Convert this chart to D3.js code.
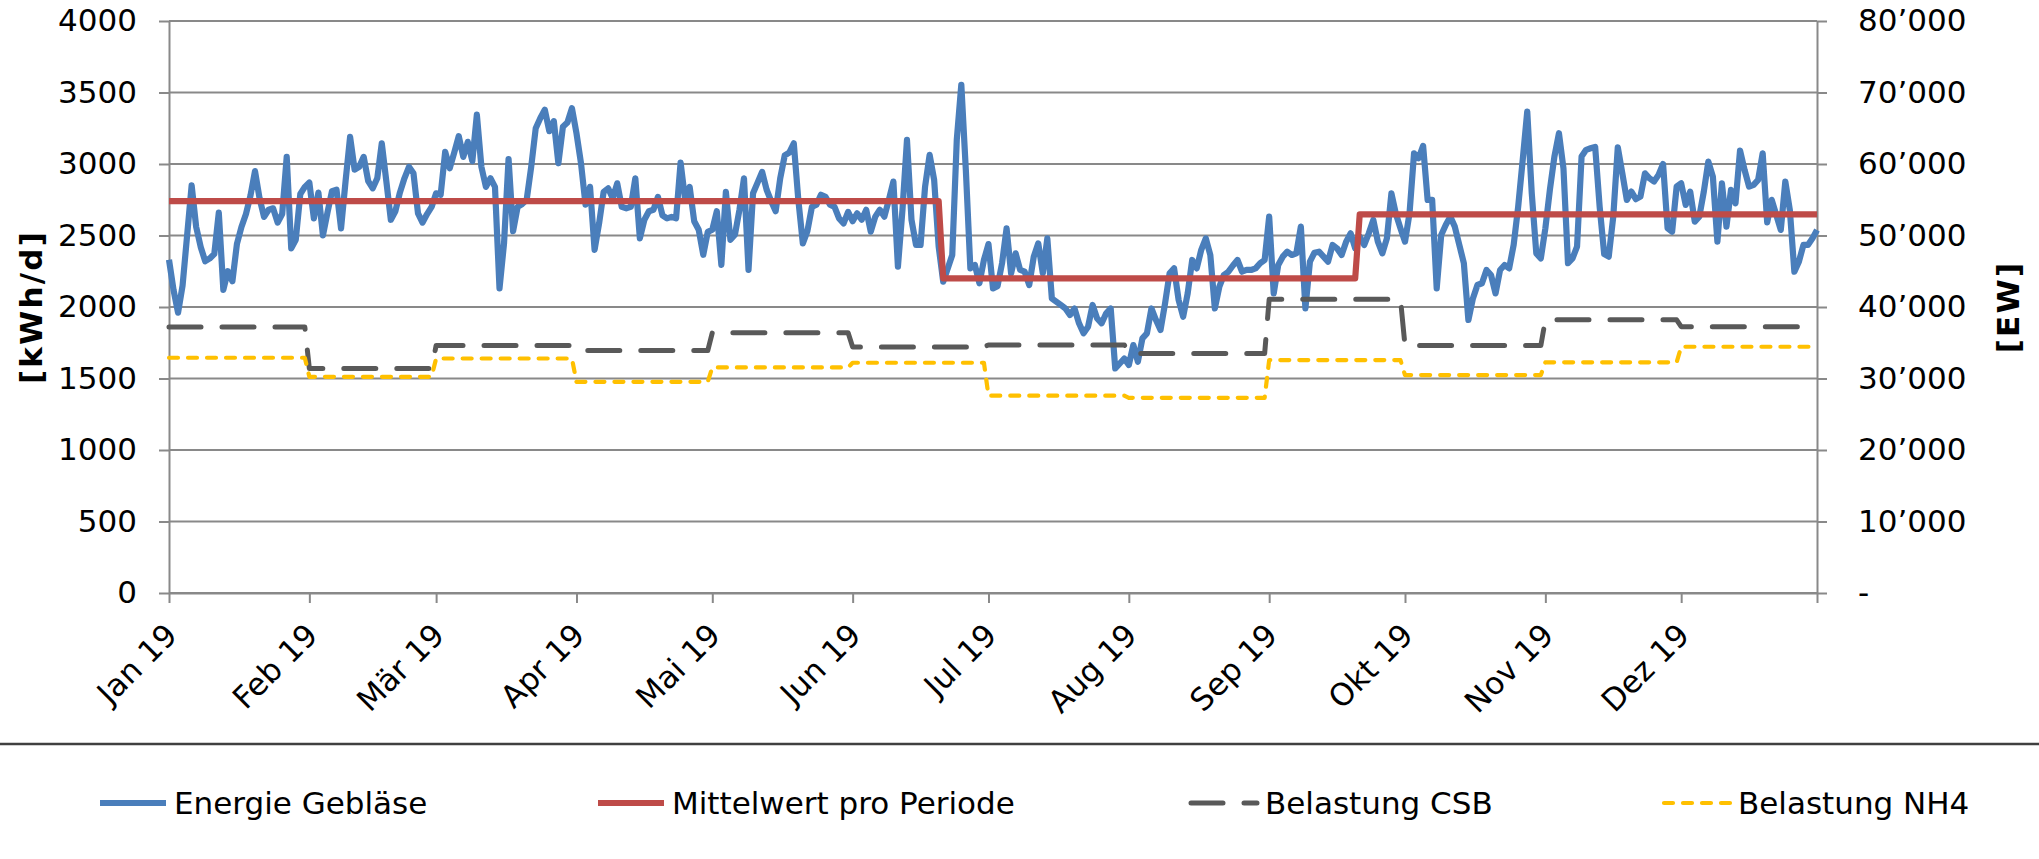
<!DOCTYPE html>
<html lang="de">
<head>
<meta charset="utf-8">
<title>Energie Gebläse 2019</title>
<script src="https://cdn.jsdelivr.net/npm/d3@7"></script>
<style>
    body { margin: 0; background: #fff; }
    #chart text { font-family: "DejaVu Sans", Verdana, sans-serif; fill: #000; }
</style>
</head>
<body>
<div id="chart"></div>
<script>
// Tageswerte Energie Gebläse [kWh/d], ein Array pro Monat (ab 1.1.2019)
const energieJan = [2330, 2120, 1960, 2150, 2500, 2850, 2560, 2420, 2320, 2340, 2370, 2660, 2120, 2250, 2180, 2440, 2560, 2650, 2780, 2950, 2760, 2630, 2680, 2690, 2590, 2650, 3050, 2410, 2470, 2790, 2840];
const energieFeb = [2870, 2620, 2800, 2500, 2660, 2810, 2820, 2550, 2880, 3190, 2960, 2980, 3050, 2880, 2830, 2900, 3145, 2880, 2610, 2670, 2800, 2900, 2980, 2935, 2655, 2590, 2650, 2700];
const energieMar = [2795, 2785, 3085, 2970, 3080, 3195, 3050, 3155, 3020, 3345, 2980, 2840, 2900, 2840, 2130, 2445, 3035, 2530, 2700, 2720, 2750, 2980, 3250, 3320, 3380, 3230, 3300, 3005, 3260, 3290, 3390];
const energieApr = [3215, 3005, 2715, 2840, 2400, 2585, 2805, 2830, 2760, 2865, 2700, 2690, 2700, 2900, 2480, 2610, 2670, 2680, 2770, 2640, 2620, 2630, 2620, 3010, 2750, 2840, 2600, 2540, 2365, 2525];
const energieMai = [2540, 2670, 2295, 2805, 2470, 2505, 2680, 2900, 2260, 2795, 2870, 2945, 2820, 2740, 2670, 2900, 3060, 3080, 3145, 2750, 2445, 2530, 2700, 2715, 2785, 2770, 2715, 2700, 2620, 2585, 2665];
const energieJun = [2600, 2655, 2610, 2680, 2527, 2632, 2680, 2632, 2750, 2877, 2282, 2679, 3169, 2609, 2434, 2434, 2842, 3064, 2889, 2422, 2177, 2270, 2364, 3169, 3554, 2959, 2270, 2294, 2166, 2329];
const energieJul = [2440, 2130, 2145, 2306, 2550, 2235, 2375, 2259, 2247, 2154, 2352, 2445, 2235, 2480, 2060, 2037, 2014, 1990, 1944, 1990, 1886, 1816, 1862, 2014, 1920, 1886, 1956, 1990, 1570, 1605, 1640];
const energieAug = [1594, 1734, 1617, 1781, 1816, 1990, 1909, 1839, 2025, 2235, 2270, 2049, 1932, 2095, 2329, 2270, 2400, 2480, 2364, 1990, 2142, 2224, 2247, 2290, 2329, 2247, 2259, 2259, 2270, 2306, 2329];
const energieSep = [2632, 2095, 2294, 2352, 2387, 2364, 2375, 2562, 1990, 2317, 2380, 2387, 2352, 2317, 2434, 2410, 2364, 2457, 2515, 2410, 2492, 2434, 2515, 2609, 2457, 2375, 2480, 2795, 2650, 2550];
const energieOkt = [2457, 2655, 3075, 3040, 3127, 2749, 2749, 2130, 2504, 2574, 2632, 2562, 2434, 2306, 1909, 2060, 2154, 2166, 2259, 2224, 2095, 2259, 2294, 2270, 2434, 2702, 3029, 3367, 2795, 2375, 2340];
const energieNov = [2550, 2819, 3052, 3215, 2970, 2306, 2340, 2422, 3052, 3099, 3110, 3120, 2700, 2370, 2352, 2632, 3117, 2935, 2749, 2807, 2754, 2772, 2935, 2900, 2877, 2924, 3000, 2550, 2527, 2842];
const energieDez = [2865, 2714, 2807, 2597, 2632, 2807, 3017, 2912, 2457, 2865, 2562, 2819, 2725, 3094, 2959, 2842, 2854, 2889, 3075, 2592, 2749, 2644, 2539, 2877, 2679, 2247, 2317, 2434, 2434, 2480, 2539];

// Mittelwert pro Periode [kWh/d]
const periodStart = ["2019-01-01", "2019-06-21", "2019-09-21"];
const periodEnd = ["2019-06-20", "2019-09-20", "2019-12-31"];
const periodMean = [2740, 2200, 2648];

// Monatliche Belastung [EW]
const csbMonthly = [37200, 31400, 34600, 33900, 36400, 34400, 34700, 33500, 41100, 34600, 38200, 37250];
const nh4Monthly = [32900, 30240, 32800, 29540, 31550, 32200, 27600, 27300, 32580, 30480, 32260, 34440];

const monthLabels = ["Jan 19", "Feb 19", "Mär 19", "Apr 19", "Mai 19", "Jun 19", "Jul 19", "Aug 19", "Sep 19", "Okt 19", "Nov 19", "Dez 19"];
const leftTicks = [0, 500, 1000, 1500, 2000, 2500, 3000, 3500, 4000];
const rightTicks = [0, 10000, 20000, 30000, 40000, 50000, 60000, 70000, 80000];
const legendLabels = ["Energie Gebläse", "Mittelwert pro Periode", "Belastung CSB", "Belastung NH4"];

class EnergyChart {
    constructor(selector) {
        this.width = 2039;
        this.height = 859;
        this.plot = { left: 169, right: 1817, top: 21, bottom: 593 };
        this.gridColor = "#898989";
        this.colors = ["#4A7EBB", "#BE4B48", "#595959", "#FFC000"];
        this.strokes = [6.2, 6.2, 5, 4.2];
        this.dashes = [null, null, "32,21", "9,10"];
        this.svg = d3.select(selector).append("svg")
            .attr("width", this.width)
            .attr("height", this.height);
        this.parse = d3.utcParse("%Y-%m-%d");
    }

    initialize() {
        const p = this.plot;
        this.x = d3.scaleUtc()
            .domain([this.parse("2019-01-01"), this.parse("2019-12-31")])
            .range([p.left, p.right]);
        this.yL = d3.scaleLinear().domain([0, 4000]).range([p.bottom, p.top]);
        this.yR = d3.scaleLinear().domain([0, 80000]).range([p.bottom, p.top]);

        // gridlines
        this.svg.append("g")
            .selectAll("line")
            .data(leftTicks)
            .join("line")
            .attr("x1", p.left).attr("x2", p.right)
            .attr("y1", d => this.yL(d)).attr("y2", d => this.yL(d))
            .attr("stroke", this.gridColor)
            .attr("stroke-width", 2);

        const locale = d3.formatLocale({ decimal: ".", thousands: "’", grouping: [3], currency: ["", ""] });
        const fmt = locale.format(",.0f");

        const left = this.svg.append("g")
            .attr("transform", `translate(${p.left},0)`)
            .call(d3.axisLeft(this.yL).tickValues(leftTicks).tickSize(10).tickSizeOuter(0).tickPadding(22).tickFormat(d3.format("d")));

        const right = this.svg.append("g")
            .attr("transform", `translate(${p.right},0)`)
            .call(d3.axisRight(this.yR).tickValues(rightTicks).tickSize(10).tickSizeOuter(0).tickPadding(31)
                .tickFormat(d => d === 0 ? "-" : fmt(d)));

        const months = d3.range(12).map(i => new Date(Date.UTC(2019, i, 1)));
        const bottom = this.svg.append("g")
            .attr("transform", `translate(0,${p.bottom})`)
            .call(d3.axisBottom(this.x).tickValues(months.concat([this.x.domain()[1]])).tickSize(10).tickSizeOuter(0).tickFormat(() => ""));

        [left, right, bottom].forEach(g => {
            g.select(".domain").attr("stroke", this.gridColor).attr("stroke-width", 2);
            g.selectAll(".tick line").attr("stroke", this.gridColor).attr("stroke-width", 2);
            g.selectAll(".tick text").style("font-size", "31px").attr("fill", "#000");
        });

        this.svg.append("g")
            .selectAll("text")
            .data(months)
            .join("text")
            .attr("transform", d => `translate(${this.x(d) + 10},${p.bottom + 44}) rotate(-45)`)
            .attr("text-anchor", "end")
            .style("font-size", "31px")
            .text((d, i) => monthLabels[i]);

        // axis titles
        this.svg.append("text")
            .attr("transform", `translate(42,${(p.top + p.bottom) / 2}) rotate(-90)`)
            .attr("text-anchor", "middle")
            .style("font-size", "31px")
            .style("font-weight", "bold")
            .style("letter-spacing", "2.2px")
            .text("[kWh/d]");

        this.svg.append("text")
            .attr("transform", `translate(2019,${(p.top + p.bottom) / 2}) rotate(-90)`)
            .attr("text-anchor", "middle")
            .style("font-size", "31px")
            .style("font-weight", "bold")
            .style("letter-spacing", "2.2px")
            .text("[EW]");

        // separator above legend
        this.svg.append("line")
            .attr("x1", 0).attr("x2", this.width)
            .attr("y1", 744).attr("y2", 744)
            .attr("stroke", "#404040")
            .attr("stroke-width", 2.5);
    }

    drawLines() {
        const energie = [].concat(energieJan, energieFeb, energieMar, energieApr, energieMai, energieJun,
            energieJul, energieAug, energieSep, energieOkt, energieNov, energieDez);
        const start = this.parse("2019-01-01");
        const daily = energie.map((v, i) => ({ date: d3.utcDay.offset(start, i), v }));

        const means = [];
        periodMean.forEach((v, i) => {
            means.push({ date: this.parse(periodStart[i]), v });
            means.push({ date: this.parse(periodEnd[i]), v });
        });

        const monthly = arr => arr.flatMap((v, i) => [
            { date: new Date(Date.UTC(2019, i, 1)), v },
            { date: new Date(Date.UTC(2019, i + 1, 0)), v }
        ]);

        const lineL = d3.line().x(d => this.x(d.date)).y(d => this.yL(d.v));
        const lineR = d3.line().x(d => this.x(d.date)).y(d => this.yR(d.v));

        const series = [
            { data: daily, line: lineL },
            { data: means, line: lineL },
            { data: monthly(csbMonthly), line: lineR },
            { data: monthly(nh4Monthly), line: lineR }
        ];

        series.forEach((s, i) => {
            this.svg.append("path").datum(s.data)
                .attr("fill", "none")
                .attr("stroke", this.colors[i])
                .attr("stroke-width", this.strokes[i])
                .attr("stroke-linejoin", "round")
                .attr("stroke-linecap", this.dashes[i] ? "round" : "butt")
                .attr("stroke-dasharray", this.dashes[i])
                .attr("d", s.line);
        });
    }

    drawLegend() {
        const xs = [98, 596, 1189, 1662];
        const y = 803;

        const items = this.svg.append("g")
            .selectAll("g")
            .data(legendLabels)
            .join("g")
            .attr("transform", (d, i) => `translate(${xs[i]},${y})`);

        items.append("line")
            .attr("x1", 2).attr("x2", 68)
            .attr("stroke", (d, i) => this.colors[i])
            .attr("stroke-width", (d, i) => this.strokes[i])
            .attr("stroke-linecap", (d, i) => this.dashes[i] ? "round" : "butt")
            .attr("stroke-dasharray", (d, i) => this.dashes[i]);

        items.append("text")
            .attr("x", 76)
            .attr("dy", "0.36em")
            .style("font-size", "31px")
            .text(d => d);
    }
}

const chart = new EnergyChart("#chart");
chart.initialize();
chart.drawLines();
chart.drawLegend();
</script>
</body>
</html>
